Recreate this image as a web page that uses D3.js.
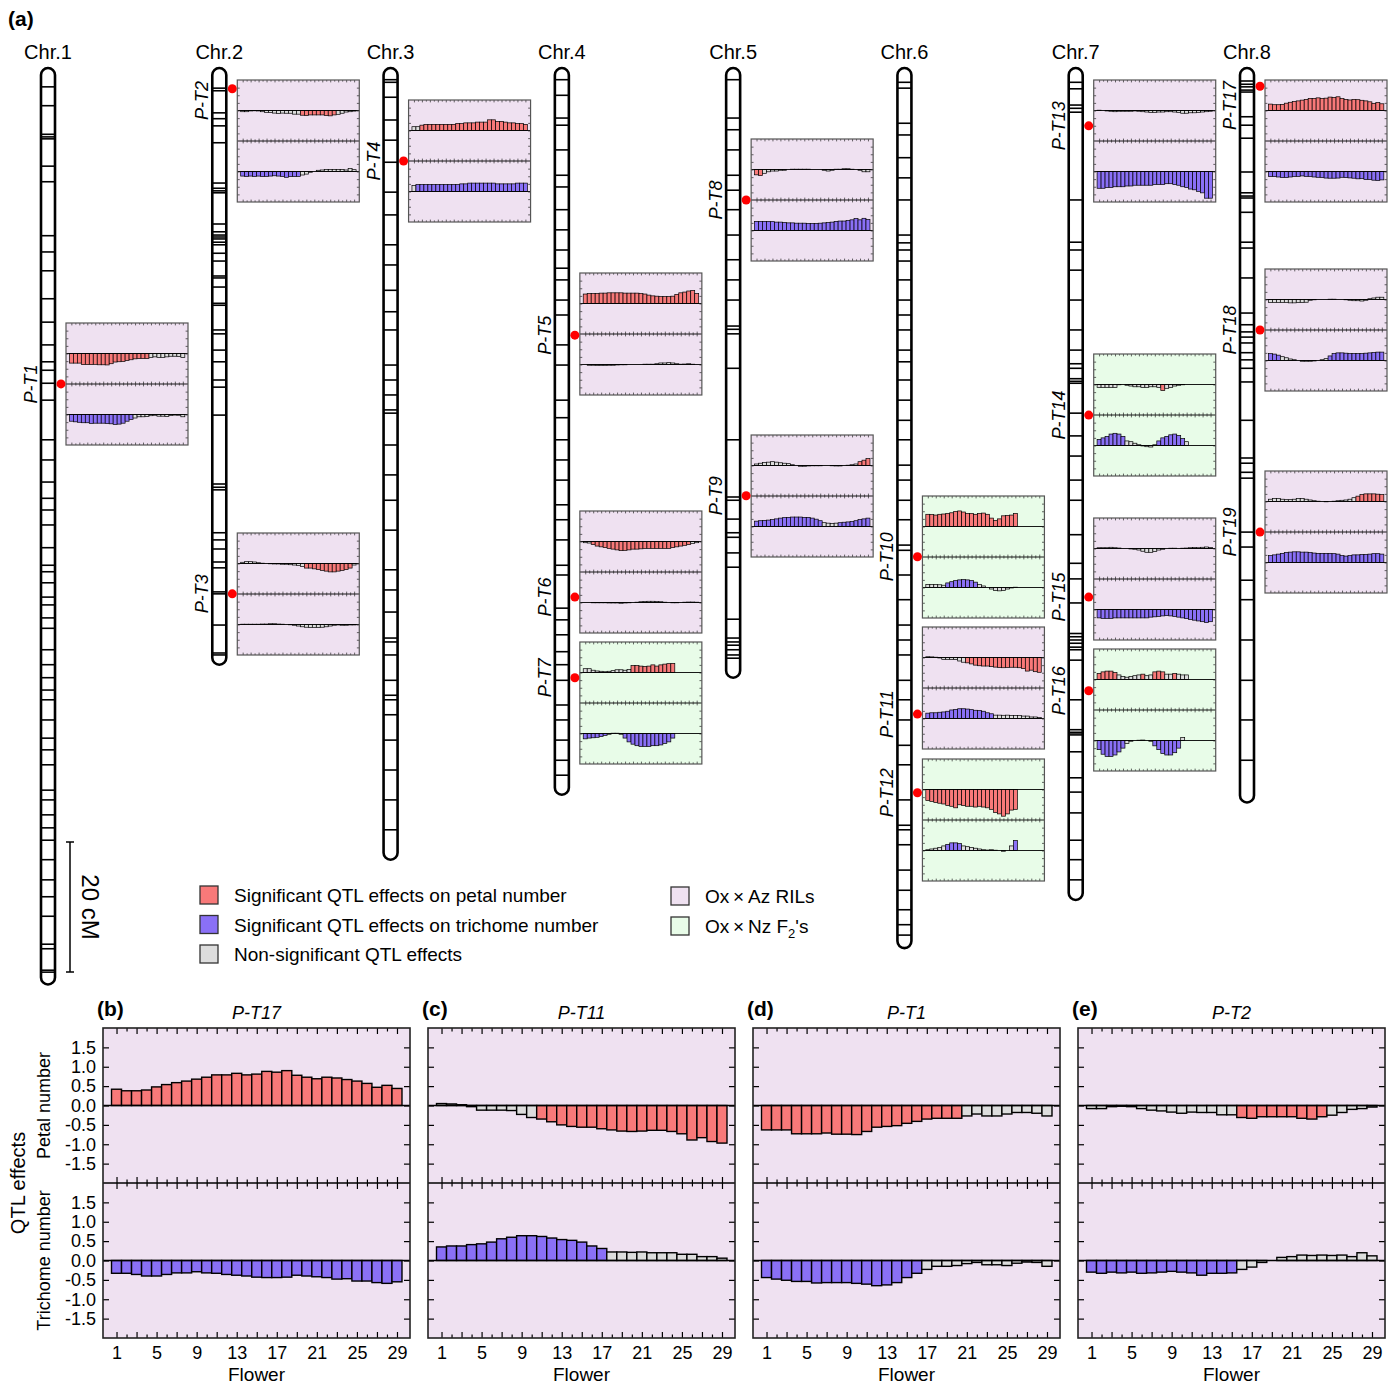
<!DOCTYPE html>
<html><head><meta charset="utf-8">
<script src="https://cdn.jsdelivr.net/npm/d3@7/dist/d3.min.js"></script>
<style>
body{margin:0;background:#fff;}
svg text{font-family:"Liberation Sans",Arial,Helvetica,sans-serif;fill:#000;}
</style></head><body>
<script>
// ---------------- DATA ----------------
const flowers = d3.range(1, 30);
const flowerTicks = [1,5,9,13,17,21,25,29];
const effectTicks = [1.5,1.0,0.5,0.0,-0.5,-1.0,-1.5];

const chromosomes = ["Chr.1","Chr.2","Chr.3","Chr.4","Chr.5","Chr.6","Chr.7","Chr.8"];
const chrLengthCM = [141, 91.8, 121.8, 111.8, 93.8, 135.4, 128, 113];

const markersChr1 = [2.9,5.8,10.2,10.6,10.9,15.1,17.5,25.8,28.3,31.2,35.5,39.1,42.6,45.2,46.5,48.5,51.1,57.2,60.3,63.7,66.2,68.0,70.3,73.8,76.5,77.5,79.2,81.4,82.6,84.6,86.2,89.5,91.8,93.8,95.7,97.2,100.3,103.1,104.9,107.2,111.1,112.6,114.9,116.9,118.8,121.8,124.9,127.5,130.5,134.8,135.5,138.8,139.1];
const markersChr2 = [3.1,3.5,6.9,7.8,8.9,11.5,17.7,18.5,18.9,19.2,24.0,25.2,25.7,26.0,26.3,26.8,27.2,28.5,29.7,32.0,32.3,33.7,36.2,36.5,40.3,40.9,43.4,45.2,48.0,49.1,53.4,64.0,64.5,64.9,71.5,72.6,74.0,76.0,76.9,80.6,80.9,85.7,90.0,90.3];
const markersChr3 = [1.8,2.2,4.5,8.0,11.1,14.5,19.1,22.6,27.2,30.3,34.2,37.5,40.3,45.7,48.0,50.3,52.6,53.1,58.0,62.6,66.5,71.1,77.2,80.3,83.7,87.7,88.3,90.3,94.2,96.5,97.2,99.5,103.4,108.0,112.6,117.2];
const markersChr4 = [1.8,4.2,7.7,8.8,12.6,16.5,18.3,21.8,24.9,28.0,30.8,32.6,35.7,38.0,42.6,45.7,51.1,53.8,57.2,60.3,63.4,67.2,69.5,72.6,76.5,78.0,83.1,84.9,87.2,89.8,91.8,94.2,98.0,100.3,103.4,106.5,108.8];
const markersChr5 = [1.8,7.7,9.5,12.6,16.5,18.8,21.8,25.7,29.5,32.6,35.7,39.7,40.2,40.9,46.2,57.2,66.0,66.5,69.4,71.5,72.2,74.6,76.8,84.8,87.7,88.3,88.8,89.5,90.3,90.8];
const markersChr6 = [2.2,3.1,8.5,10.3,13.8,16.9,20.3,25.7,26.9,28.0,29.7,32.6,35.7,38.0,40.3,43.4,45.2,48.0,51.1,54.2,57.2,61.1,63.4,66.5,69.5,73.4,74.2,78.0,81.8,85.7,88.0,90.3,94.2,97.2,100.3,104.2,107.2,112.6,116.5,117.2,119.5,123.4,126.5,129.5,131.8,133.4];
const markersChr7 = [2.2,3.2,5.7,6.2,6.8,20.3,26.8,28.0,31.1,35.7,40.3,43.4,45.5,46.2,47.8,48.2,48.5,53.1,56.6,59.7,63.4,66.5,71.8,76.2,78.6,82.3,87.0,87.5,88.0,88.5,89.1,89.5,91.1,97.2,101.8,102.2,102.3,102.6,105.2,109.2,111.4,114.6,118.8,121.8,124.9];
const markersChr8 = [2.0,2.5,2.9,3.4,3.7,7.5,8.8,10.8,16.0,19.2,19.7,20.0,22.2,26.8,27.7,32.3,37.7,39.5,40.6,41.4,42.3,43.8,44.9,46.2,48.3,54.2,60.0,60.8,62.2,63.1,71.4,73.7,78.8,81.8,88.0,94.2,100.3,106.5];

const qtlNames = ["P-T1","P-T2","P-T3","P-T4","P-T5","P-T6","P-T7","P-T8","P-T9","P-T10","P-T11","P-T12","P-T13","P-T14","P-T15","P-T16","P-T17","P-T18","P-T19"];
const qtlChr   = [1,2,2,3,4,4,4,5,5,6,6,6,7,7,7,7,8,8,8];
const qtlPosCM = [48.6,3.2,80.9,14.3,41.1,81.4,93.8,20.3,65.8,75.2,99.4,111.5,8.9,53.4,81.4,95.8,2.8,40.3,71.4];
const qtlCross = ["RIL","RIL","RIL","RIL","RIL","RIL","F2","RIL","RIL","F2","RIL","F2","RIL","F2","RIL","F2","RIL","RIL","RIL"];

// QTL effects per flower (petal / trichome) and significant flower ranges
const petalPT1 = [-0.63,-0.63,-0.63,-0.73,-0.73,-0.73,-0.71,-0.74,-0.74,-0.75,-0.67,-0.56,-0.54,-0.52,-0.46,-0.41,-0.35,-0.33,-0.33,-0.33,-0.27,-0.22,-0.27,-0.27,-0.22,-0.18,-0.18,-0.20,-0.27];
const trichPT1 = [-0.44,-0.48,-0.51,-0.54,-0.54,-0.58,-0.57,-0.57,-0.57,-0.59,-0.61,-0.65,-0.63,-0.57,-0.44,-0.33,-0.23,-0.15,-0.15,-0.13,-0.08,-0.05,-0.11,-0.11,-0.13,-0.07,-0.04,-0.05,-0.15];
const sigPetalPT1 = [[1,20]], sigTrichPT1 = [[1,16]];

const petalPT2 = [-0.08,-0.08,-0.03,-0.02,-0.03,-0.08,-0.12,-0.14,-0.17,-0.20,-0.17,-0.18,-0.18,-0.24,-0.24,-0.31,-0.33,-0.29,-0.29,-0.29,-0.29,-0.33,-0.35,-0.29,-0.25,-0.18,-0.10,-0.08,-0.04];
const trichPT2 = [-0.30,-0.33,-0.30,-0.32,-0.30,-0.33,-0.32,-0.30,-0.28,-0.30,-0.32,-0.38,-0.33,-0.33,-0.32,-0.23,-0.17,-0.05,0,0.08,0.10,0.14,0.13,0.14,0.13,0.14,0.10,0.20,0.12];
const sigPetalPT2 = [[16,24]], sigTrichPT2 = [[1,15]];

const petalPT3 = [0.08,0.12,0.12,0.10,0.05,0.02,0,-0.02,-0.03,-0.03,-0.05,-0.05,-0.08,-0.10,-0.12,-0.20,-0.30,-0.30,-0.35,-0.40,-0.45,-0.50,-0.55,-0.55,-0.50,-0.45,-0.40,-0.30,-0.10];
const trichPT3 = [0.02,0.02,0.02,0.02,0.02,0.03,0.03,0.05,0.05,0.03,0.02,0,-0.02,-0.05,-0.10,-0.15,-0.18,-0.20,-0.20,-0.20,-0.18,-0.15,-0.10,-0.05,-0.03,-0.05,-0.05,-0.03,-0.03];
const sigPetalPT3 = [[17,28]], sigTrichPT3 = [];

const petalPT4 = [0.25,0.25,0.35,0.40,0.40,0.40,0.40,0.40,0.40,0.40,0.40,0.45,0.45,0.50,0.50,0.50,0.55,0.55,0.55,0.70,0.70,0.60,0.60,0.55,0.50,0.50,0.45,0.45,0.40];
const trichPT4 = [0.40,0.45,0.45,0.45,0.45,0.45,0.45,0.45,0.45,0.45,0.45,0.45,0.50,0.50,0.55,0.55,0.55,0.55,0.55,0.55,0.55,0.50,0.50,0.50,0.50,0.50,0.55,0.55,0.55];
const sigPetalPT4 = [[3,29]], sigTrichPT4 = [[2,29]];

const petalPT5 = [0.62,0.65,0.65,0.65,0.68,0.68,0.70,0.70,0.70,0.70,0.68,0.68,0.68,0.68,0.65,0.62,0.55,0.50,0.48,0.45,0.45,0.45,0.48,0.60,0.70,0.75,0.82,0.85,0.65];
const trichPT5 = [0,-0.05,-0.05,-0.07,-0.07,-0.07,-0.05,-0.05,-0.03,-0.02,-0.02,0,0,0,0,0.02,0.02,0.02,0.05,0.10,0.10,0.12,0.10,0.05,0.02,0.03,0.05,0.02,0];
const sigPetalPT5 = [[1,29]], sigTrichPT5 = [];

const petalPT6 = [-0.08,-0.10,-0.20,-0.30,-0.35,-0.40,-0.45,-0.50,-0.55,-0.60,-0.58,-0.55,-0.50,-0.50,-0.48,-0.45,-0.45,-0.45,-0.45,-0.45,-0.45,-0.45,-0.40,-0.35,-0.30,-0.25,-0.20,-0.12,-0.08];
const trichPT6 = [0,0,-0.02,-0.02,-0.02,-0.02,-0.03,-0.03,-0.03,-0.05,-0.03,-0.02,0,0.02,0.05,0.07,0.08,0.08,0.07,0.05,0.02,0,-0.02,-0.02,0,0.02,0.03,0.03,0.02];
const sigPetalPT6 = [[3,27]], sigTrichPT6 = [];

const petalPT7 = [0.25,0.25,0.15,0.10,0.08,0.05,0.08,0.12,0.18,0.18,0.15,0.20,0.45,0.45,0.42,0.40,0.42,0.50,0.42,0.50,0.55,0.58,0.60];
const trichPT7 = [-0.35,-0.30,-0.28,-0.25,-0.20,-0.12,-0.05,0.02,0.02,-0.05,-0.30,-0.55,-0.70,-0.80,-0.85,-0.85,-0.85,-0.80,-0.80,-0.75,-0.65,-0.55,-0.30];
const sigPetalPT7 = [[13,23]], sigTrichPT7 = [[1,6],[11,23]];

const petalPT8 = [-0.35,-0.40,-0.25,-0.15,-0.10,-0.10,-0.05,-0.05,0,0.02,0.02,0.02,0.02,0.02,0,0,0,-0.05,-0.10,-0.05,0.02,0.02,0.05,0.05,0.02,0,-0.05,-0.15,-0.15];
const trichPT8 = [0.60,0.60,0.60,0.60,0.58,0.55,0.55,0.52,0.50,0.50,0.48,0.48,0.48,0.46,0.46,0.46,0.48,0.50,0.52,0.55,0.60,0.62,0.62,0.65,0.70,0.78,0.70,0.80,0.72];
const sigPetalPT8 = [[1,2]], sigTrichPT8 = [[1,29]];

const petalPT9 = [0.10,0.15,0.20,0.22,0.25,0.22,0.18,0.15,0.12,0.05,0,-0.05,-0.05,-0.03,-0.02,-0.02,-0.02,0,0,-0.02,-0.03,-0.03,0,0.02,0.05,0.10,0.25,0.35,0.45];
const trichPT9 = [0.35,0.38,0.40,0.42,0.45,0.50,0.55,0.58,0.60,0.62,0.62,0.62,0.60,0.60,0.55,0.48,0.38,0.25,0.22,0.20,0.22,0.25,0.28,0.30,0.32,0.38,0.45,0.50,0.55];
const sigPetalPT9 = [[27,29]], sigTrichPT9 = [[1,17],[22,29]];

const petalPT10 = [0.80,0.78,0.75,0.80,0.82,0.85,0.90,0.98,1.02,0.95,0.85,0.85,0.80,0.85,0.88,0.80,0.55,0.40,0.50,0.70,0.72,0.75,0.85];
const trichPT10 = [0.20,0.20,0.20,0.18,0.15,0.30,0.38,0.45,0.50,0.52,0.50,0.45,0.35,0.20,0.10,0,-0.10,-0.20,-0.22,-0.20,-0.10,-0.03,0.02];
const sigPetalPT10 = [[1,23]], sigTrichPT10 = [[6,13]];

const petalPT11 = [0.05,0.04,0.02,-0.03,-0.12,-0.12,-0.12,-0.13,-0.23,-0.31,-0.35,-0.42,-0.50,-0.54,-0.56,-0.56,-0.60,-0.63,-0.66,-0.67,-0.66,-0.64,-0.64,-0.67,-0.73,-0.89,-0.83,-0.93,-0.97];
const trichPT11 = [0.35,0.375,0.375,0.41,0.43,0.475,0.56,0.60,0.64,0.64,0.62,0.58,0.54,0.52,0.475,0.375,0.31,0.22,0.22,0.21,0.22,0.20,0.20,0.20,0.16,0.16,0.10,0.10,0.06];
const sigPetalPT11 = [[11,29]], sigTrichPT11 = [[1,17]];

const petalPT12 = [-0.72,-0.78,-0.85,-0.90,-0.95,-1.05,-1.10,-1.20,-1.00,-1.05,-1.10,-1.10,-1.15,-1.10,-1.15,-1.20,-1.30,-1.50,-1.60,-1.75,-1.60,-1.35,-1.30];
const trichPT12 = [0.05,0.10,0.15,0.20,0.30,0.40,0.50,0.50,0.45,0.30,0.25,0.20,0.15,0.10,0.05,0.03,0.05,0.02,0,-0.05,0,0.30,0.65];
const sigPetalPT12 = [[1,23]], sigTrichPT12 = [[6,9],[23,23]];

const petalPT13 = [0.02,0,-0.03,-0.05,-0.08,-0.05,-0.05,-0.05,-0.05,-0.03,-0.05,-0.08,-0.10,-0.12,-0.12,-0.10,-0.10,-0.08,-0.08,-0.10,-0.12,-0.18,-0.18,-0.15,-0.15,-0.12,-0.10,-0.08,-0.05];
const trichPT13 = [-1.10,-1.10,-1.05,-1.05,-1.00,-1.00,-1.00,-0.95,-0.95,-0.90,-0.90,-0.90,-0.90,-0.90,-0.85,-0.85,-0.85,-0.80,-0.80,-0.85,-0.90,-1.00,-1.05,-1.15,-1.20,-1.30,-1.40,-1.75,-1.75];
const sigPetalPT13 = [], sigTrichPT13 = [[1,29]];

const petalPT14 = [-0.20,-0.20,-0.20,-0.20,-0.20,-0.02,0,-0.05,-0.10,-0.15,-0.15,-0.20,-0.20,-0.15,-0.15,-0.20,-0.40,-0.25,-0.20,-0.10,-0.05,-0.02,0];
const trichPT14 = [0.40,0.50,0.60,0.75,0.80,0.75,0.60,0.30,0.25,0.15,0.05,-0.03,-0.08,-0.10,0.05,0.30,0.50,0.60,0.70,0.75,0.65,0.45,0.25];
const sigPetalPT14 = [[17,17]], sigTrichPT14 = [[1,7],[16,22]];

const petalPT15 = [0.05,0.05,0.05,0.08,0.05,0.03,0,0,-0.03,-0.05,-0.10,-0.18,-0.25,-0.25,-0.20,-0.10,-0.05,0,0.02,0.02,0,0.02,0.03,0.05,0.07,0.05,0.08,0.10,0.07];
const trichPT15 = [-0.55,-0.58,-0.58,-0.58,-0.55,-0.55,-0.55,-0.55,-0.55,-0.55,-0.55,-0.55,-0.55,-0.50,-0.48,-0.45,-0.42,-0.40,-0.42,-0.45,-0.50,-0.55,-0.60,-0.65,-0.70,-0.75,-0.80,-0.85,-0.80];
const sigPetalPT15 = [], sigTrichPT15 = [[1,29]];

const petalPT16 = [0.40,0.50,0.55,0.55,0.45,0.30,0.20,0.15,0.20,0.25,0.30,0.35,0.25,0.30,0.50,0.55,0.50,0.35,0.35,0.40,0.35,0.30,0.30];
const trichPT16 = [-0.60,-0.90,-1.05,-1.05,-0.95,-0.75,-0.50,-0.20,-0.05,0,0.02,0.03,0,-0.05,-0.35,-0.60,-0.85,-0.95,-0.95,-0.80,-0.50,0.20,0];
const sigPetalPT16 = [[1,5],[12,12],[15,17],[20,20]], sigTrichPT16 = [[1,7],[15,21]];

const petalPT17 = [0.42,0.38,0.38,0.40,0.48,0.54,0.59,0.63,0.68,0.73,0.79,0.79,0.83,0.79,0.81,0.88,0.86,0.90,0.78,0.73,0.69,0.73,0.71,0.67,0.63,0.57,0.47,0.52,0.44];
const trichPT17 = [-0.33,-0.33,-0.36,-0.40,-0.40,-0.36,-0.32,-0.32,-0.29,-0.32,-0.33,-0.36,-0.38,-0.40,-0.43,-0.44,-0.44,-0.43,-0.38,-0.40,-0.42,-0.44,-0.48,-0.47,-0.53,-0.53,-0.57,-0.59,-0.55];
const sigPetalPT17 = [[1,29]], sigTrichPT17 = [[1,29]];

const petalPT18 = [-0.20,-0.20,-0.20,-0.20,-0.20,-0.22,-0.22,-0.20,-0.20,-0.18,-0.05,-0.02,0,0,0,0.02,0.02,0,0,-0.02,-0.05,-0.08,-0.08,-0.10,-0.05,0.05,0.10,0.15,0.15];
const trichPT18 = [0.45,0.42,0.35,0.25,0.18,0.10,0.05,0,-0.05,-0.05,-0.05,-0.03,0,0.05,0.12,0.30,0.45,0.50,0.50,0.48,0.45,0.45,0.45,0.45,0.48,0.50,0.52,0.55,0.55];
const sigPetalPT18 = [], sigTrichPT18 = [[1,3],[16,29]];

const petalPT19 = [0.15,0.20,0.20,0.15,0.12,0.12,0.15,0.20,0.20,0.15,0.10,0.05,0.02,0,-0.02,0,0.02,0.05,0.08,0.10,0.15,0.25,0.35,0.45,0.50,0.50,0.50,0.48,0.45];
const trichPT19 = [0.45,0.50,0.55,0.60,0.65,0.68,0.70,0.70,0.68,0.68,0.65,0.62,0.60,0.60,0.60,0.60,0.58,0.55,0.45,0.42,0.45,0.50,0.50,0.52,0.52,0.55,0.58,0.58,0.55];
const sigPetalPT19 = [[23,29]], sigTrichPT19 = [[1,29]];

const detailLetters = ["(b)","(c)","(d)","(e)"];
const detailQTL = ["P-T17","P-T11","P-T1","P-T2"];

const legendEffects = ["Significant QTL effects on petal number","Significant QTL effects on trichome number","Non-significant QTL effects"];
const legendCrosses = ["RIL","F2"];

// ---------------- TABLE (built from arrays) ----------------
const effectTable = {
  "P-T1":[petalPT1,trichPT1,sigPetalPT1,sigTrichPT1], "P-T2":[petalPT2,trichPT2,sigPetalPT2,sigTrichPT2],
  "P-T3":[petalPT3,trichPT3,sigPetalPT3,sigTrichPT3], "P-T4":[petalPT4,trichPT4,sigPetalPT4,sigTrichPT4],
  "P-T5":[petalPT5,trichPT5,sigPetalPT5,sigTrichPT5], "P-T6":[petalPT6,trichPT6,sigPetalPT6,sigTrichPT6],
  "P-T7":[petalPT7,trichPT7,sigPetalPT7,sigTrichPT7], "P-T8":[petalPT8,trichPT8,sigPetalPT8,sigTrichPT8],
  "P-T9":[petalPT9,trichPT9,sigPetalPT9,sigTrichPT9], "P-T10":[petalPT10,trichPT10,sigPetalPT10,sigTrichPT10],
  "P-T11":[petalPT11,trichPT11,sigPetalPT11,sigTrichPT11], "P-T12":[petalPT12,trichPT12,sigPetalPT12,sigTrichPT12],
  "P-T13":[petalPT13,trichPT13,sigPetalPT13,sigTrichPT13], "P-T14":[petalPT14,trichPT14,sigPetalPT14,sigTrichPT14],
  "P-T15":[petalPT15,trichPT15,sigPetalPT15,sigTrichPT15], "P-T16":[petalPT16,trichPT16,sigPetalPT16,sigTrichPT16],
  "P-T17":[petalPT17,trichPT17,sigPetalPT17,sigTrichPT17], "P-T18":[petalPT18,trichPT18,sigPetalPT18,sigTrichPT18],
  "P-T19":[petalPT19,trichPT19,sigPetalPT19,sigTrichPT19]
};
const markerTable = [markersChr1,markersChr2,markersChr3,markersChr4,markersChr5,markersChr6,markersChr7,markersChr8];

// ---------------- LAYOUT / STYLE ----------------
const W = 1397, H = 1384;
const COL = {petal:"#f87979", trich:"#8a70f6", ns:"#dddddd", RIL:"#efe1f1", F2:"#e8fce8", dot:"#ff0000"};
const flowerDomain = [-0.35, 30.3];
const effectDomain = [-2, 2];
const miniW = 122, miniH = 122;
const panelTopPx = [323,80,533,100,273,511,642,139,435,496,627,759,80,354,518,649,80,269,471];

const svg = d3.select("body").append("svg").attr("width", W).attr("height", H);
svg.append("rect").attr("width", W).attr("height", H).attr("fill", "#fff");

const xChr = d3.scalePoint().domain(chromosomes).range([48, 1247]);
const yCM = d3.scaleLinear().domain([0, 150]).range([68, 68 + 150 * 6.5]);
const fmt = v => d3.format(".1f")(v).replace("\u2212", "-");
const inRanges = (r, f) => r.some(d => f >= d[0] && f <= d[1]);

function effectPanel(g, x0, y0, w, h, eff, bg, big) {
  const x = d3.scaleLinear().domain(flowerDomain).range([x0, x0 + w]);
  const yP = d3.scaleLinear().domain(effectDomain).range([y0 + h / 2, y0]);
  const yT = d3.scaleLinear().domain(effectDomain).range([y0 + h, y0 + h / 2]);
  const bw = x(1) - x(0);
  g.append("rect").attr("x", x0).attr("y", y0).attr("width", w).attr("height", h).attr("fill", bg);
  const series = [
    {vals: eff[0], sig: eff[2], y: yP, col: COL.petal},
    {vals: eff[1], sig: eff[3], y: yT, col: COL.trich}
  ];
  series.forEach(s => {
    g.append("g").selectAll("rect").data(s.vals.map((v, i) => ({f: flowers[i], v})))
      .join("rect")
      .attr("x", d => x(d.f) - bw / 2).attr("width", bw)
      .attr("y", d => Math.min(s.y(d.v), s.y(0)))
      .attr("height", d => Math.abs(s.y(d.v) - s.y(0)))
      .attr("fill", d => inRanges(s.sig, d.f) ? s.col : COL.ns)
      .attr("stroke", "#000").attr("stroke-width", big ? 1.4 : 0.7);
  });
  [yP, yT].forEach(y => g.append("line").attr("x1", x0).attr("x2", x0 + w)
    .attr("y1", y(0)).attr("y2", y(0)).attr("stroke", "#000").attr("stroke-width", big ? 1.6 : 0.9));
  g.append("line").attr("x1", x0).attr("x2", x0 + w).attr("y1", y0 + h / 2).attr("y2", y0 + h / 2)
    .attr("stroke", "#000").attr("stroke-width", big ? 1.6 : 0.9);
  const L = big ? [6, 3.5] : [2.4, 1.6];
  const tw = big ? 1.2 : 0.7;
  const addAxis = (axis, tx, ty) => {
    const a = g.append("g").attr("transform", `translate(${tx},${ty})`).call(axis);
    a.select(".domain").remove();
    a.selectAll("text").remove();
    a.selectAll("line").attr("stroke", big ? "#000" : "#222").attr("stroke-width", tw);
  };
  const odd = flowers.filter(f => f % 2 === 1), even = flowers.filter(f => f % 2 === 0);
  [[odd, L[0]], [even, L[1]]].forEach(([vals, len]) => {
    addAxis(d3.axisBottom(x).tickValues(vals).tickSize(len).tickFormat(""), 0, y0);
    addAxis(d3.axisTop(x).tickValues(vals).tickSize(len).tickFormat(""), 0, y0 + h);
    addAxis(d3.axisTop(x).tickValues(vals).tickSize(len).tickFormat(""), 0, y0 + h / 2);
    addAxis(d3.axisBottom(x).tickValues(vals).tickSize(len).tickFormat(""), 0, y0 + h / 2);
  });
  [yP, yT].forEach(y => {
    addAxis(d3.axisRight(y).tickValues(effectTicks).tickSize(L[0]).tickFormat(""), x0, 0);
    addAxis(d3.axisLeft(y).tickValues(effectTicks).tickSize(L[0]).tickFormat(""), x0 + w, 0);
  });
  g.append("rect").attr("x", x0).attr("y", y0).attr("width", w).attr("height", h)
    .attr("fill", "none").attr("stroke", big ? "#222" : "#555").attr("stroke-width", big ? 1.6 : 1.2);
  return {x, yP, yT};
}

// ---------------- PANEL (a) ----------------
svg.append("text").attr("x", 8).attr("y", 26).attr("font-size", 21).attr("font-weight", "bold").text("(a)");

const chrG = svg.append("g");
chromosomes.forEach((c, i) => {
  const cx = xChr(c);
  const g = chrG.append("g");
  g.append("text").attr("x", cx).attr("y", 59).attr("text-anchor", "middle").attr("font-size", 20).text(c);
  const top = yCM(0), bot = yCM(chrLengthCM[i]);
  g.append("rect").attr("x", cx - 7).attr("y", top).attr("width", 14).attr("height", bot - top)
    .attr("rx", 7).attr("fill", "#fff");
  g.selectAll("line.m").data(markerTable[i]).join("line").attr("class", "m")
    .attr("x1", cx - 7).attr("x2", cx + 7).attr("y1", d => yCM(d)).attr("y2", d => yCM(d))
    .attr("stroke", "#000").attr("stroke-width", 1.6);
  g.append("rect").attr("x", cx - 7).attr("y", top).attr("width", 14).attr("height", bot - top)
    .attr("rx", 7).attr("fill", "none").attr("stroke", "#000").attr("stroke-width", 2.6);
});

qtlNames.forEach((q, i) => {
  const c = chromosomes[qtlChr[i] - 1];
  const cx = xChr(c);
  const dy = yCM(qtlPosCM[i]);
  const g = svg.append("g");
  effectPanel(g, cx + 18, panelTopPx[i], miniW, miniH, effectTable[q], COL[qtlCross[i]], false);
  g.append("circle").attr("cx", cx + 13).attr("cy", dy).attr("r", 4.5).attr("fill", COL.dot);
  const t = g.append("text").attr("font-size", 18).attr("font-style", "italic").attr("text-anchor", "middle").text(q);
  const len = t.node().getComputedTextLength();
  const ly = Math.max(dy, 80 + len / 2 + 1);
  t.attr("transform", `translate(${cx - 11},${ly}) rotate(-90)`);
});

// scale bar
const sbTop = 842, sbLen = yCM(20) - yCM(0);
const sb = svg.append("g");
sb.append("line").attr("x1", 70).attr("x2", 70).attr("y1", sbTop).attr("y2", sbTop + sbLen).attr("stroke", "#000").attr("stroke-width", 1.5);
[sbTop, sbTop + sbLen].forEach(y => sb.append("line").attr("x1", 66).attr("x2", 74).attr("y1", y).attr("y2", y).attr("stroke", "#000").attr("stroke-width", 1.5));
sb.append("text").attr("transform", `translate(82,${sbTop + sbLen / 2}) rotate(90)`).attr("text-anchor", "middle")
  .attr("font-size", 24).text("20 cM");

// legend
const lg = svg.append("g");
const legCols = [COL.petal, COL.trich, COL.ns];
legendEffects.forEach((t, i) => {
  const y = 895 + i * 29.5;
  lg.append("rect").attr("x", 200).attr("y", y - 9).attr("width", 18).attr("height", 18)
    .attr("fill", legCols[i]).attr("stroke", "#333").attr("stroke-width", 1.3);
  lg.append("text").attr("x", 234).attr("y", y + 7).attr("font-size", 19).text(t);
});
legendCrosses.forEach((k, i) => {
  const y = 896 + i * 30;
  lg.append("rect").attr("x", 671).attr("y", y - 9).attr("width", 18).attr("height", 18)
    .attr("fill", COL[k]).attr("stroke", "#333").attr("stroke-width", 1.3);
  const t = lg.append("text").attr("x", 705).attr("y", y + 7).attr("font-size", 19);
  if (k === "RIL") t.text("Ox\u2009\u00d7\u2009Az RILs");
  else {
    t.append("tspan").text("Ox\u2009\u00d7\u2009Nz F");
    t.append("tspan").attr("font-size", 13).attr("dy", 5).text("2");
    t.append("tspan").attr("dy", -5).text("'s");
  }
});

// ---------------- PANELS (b)-(e) ----------------
const bx = d3.scaleBand().domain(detailQTL).range([103, 1385]).paddingInner(18 / 325);
const bigTop = 1028, bigH = 310;
detailQTL.forEach((q, i) => {
  const x0 = bx(q), w = bx.bandwidth();
  const g = svg.append("g");
  const s = effectPanel(g, x0, bigTop, w, bigH, effectTable[q], COL.RIL, true);
  g.append("text").attr("x", x0 - 6).attr("y", 1016).attr("font-size", 21).attr("font-weight", "bold").text(detailLetters[i]);
  g.append("text").attr("x", x0 + w / 2).attr("y", 1019).attr("text-anchor", "middle")
    .attr("font-size", 18).attr("font-style", "italic").text(q);
  const xa = g.append("g").attr("transform", `translate(0,${bigTop + bigH})`)
    .call(d3.axisBottom(s.x).tickValues(flowerTicks).tickSize(0).tickPadding(8));
  xa.select(".domain").remove();
  xa.selectAll("text").attr("font-size", 18).attr("font-family", '"Liberation Sans",Arial,sans-serif');
  g.append("text").attr("x", x0 + w / 2).attr("y", 1381).attr("text-anchor", "middle").attr("font-size", 19).text("Flower");
  if (i === 0) {
    [s.yP, s.yT].forEach(y => {
      const ya = g.append("g").attr("transform", `translate(${x0},0)`)
        .call(d3.axisLeft(y).tickValues(effectTicks).tickSize(0).tickPadding(7).tickFormat(fmt));
      ya.select(".domain").remove();
      ya.selectAll("text").attr("font-size", 18).attr("font-family", '"Liberation Sans",Arial,sans-serif');
    });
    g.append("text").attr("transform", `translate(50,${s.yP(0)}) rotate(-90)`).attr("text-anchor", "middle").attr("font-size", 18).text("Petal number");
    g.append("text").attr("transform", `translate(50,${s.yT(0)}) rotate(-90)`).attr("text-anchor", "middle").attr("font-size", 18).text("Trichome number");
    g.append("text").attr("transform", `translate(25,${bigTop + bigH / 2}) rotate(-90)`).attr("text-anchor", "middle").attr("font-size", 20).text("QTL effects");
  }
});
</script></body></html>
